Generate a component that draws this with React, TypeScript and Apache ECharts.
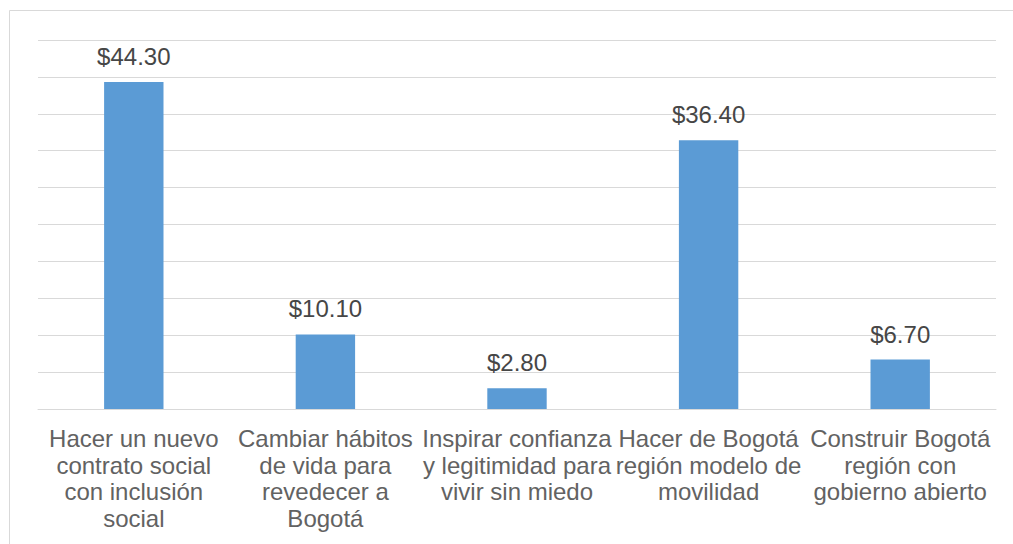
import React, { useEffect, useRef } from "react";
import * as echarts from "echarts";

const categories = [
  "Hacer un nuevo\ncontrato social\ncon inclusión\nsocial",
  "Cambiar hábitos\nde vida para\nrevedecer a\nBogotá",
  "Inspirar confianza\ny legitimidad para\nvivir sin miedo",
  "Hacer de Bogotá\nregión modelo de\nmovilidad",
  "Construir Bogotá\nregión con\ngobierno abierto",
];
const values = [44.3, 10.1, 2.8, 36.4, 6.7];
const yMin = 0;
const yMax = 50;
const yInterval = 5;

export default function App() {
  const ref = useRef<HTMLDivElement>(null);
  useEffect(() => {
    if (!ref.current) return;
    const chart = echarts.init(ref.current, null, { renderer: "svg" });
    const font = "'Liberation Sans', Arial, sans-serif";
    chart.setOption({
      animation: false,
      backgroundColor: "#ffffff",
      textStyle: { fontFamily: font },
      graphic: [
        {
          type: "rect",
          shape: { x: 9.5, y: 10.5, width: 1020, height: 560 },
          style: { fill: "none", stroke: "#D9D9D9", lineWidth: 1 },
          silent: true,
        },
      ],
      grid: { left: 38, right: 17, top: 40, bottom: 135, containLabel: false },
      xAxis: {
        type: "category",
        data: categories,
        axisLine: { show: true, lineStyle: { color: "#D9D9D9", width: 1 } },
        axisTick: { show: false },
        axisLabel: {
          interval: 0,
          color: "#626262",
          fontSize: 24,
          lineHeight: 26.7,
          margin: 16,
          fontFamily: font,
          align: "center",
        },
      },
      yAxis: {
        type: "value",
        min: yMin,
        max: yMax,
        interval: yInterval,
        axisLabel: { show: false },
        axisLine: { show: false },
        axisTick: { show: false },
        splitLine: { lineStyle: { color: "#D9D9D9", width: 1 } },
      },
      series: [
        {
          type: "bar",
          data: values,
          barWidth: "31%",
          itemStyle: { color: "#5B9BD5" },
          label: {
            show: true,
            position: "top",
            distance: 12,
            color: "#464646",
            fontSize: 24,
            lineHeight: 27,
            fontFamily: font,
            formatter: (p: any) => "$" + Number(p.value).toFixed(2),
          },
        },
      ],
    });
    return () => chart.dispose();
  }, []);
  return (
    <div
      ref={ref}
      style={{ position: "fixed", left: 0, top: 0, width: 1013, height: 544 }}
    />
  );
}
